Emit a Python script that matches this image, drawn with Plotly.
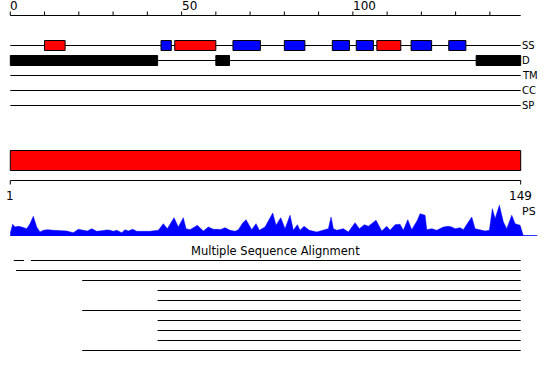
import plotly.graph_objects as go

# ---------------- data ----------------
seq_len = 149
axis_ticks = [0, 10, 20, 30, 40, 50, 60, 70, 80, 90, 100, 110, 120, 130, 140]
axis_labels = ["0", "50", "100"]
axis_label_pos = [0, 50, 100]

# secondary structure elements (start, end, type)
ss_start = [10, 44, 48, 65, 80, 94, 101, 107, 117, 128]
ss_end = [16, 47, 60, 73, 86, 99, 106, 114, 123, 133]
ss_type = ["H", "E", "H", "E", "E", "E", "E", "H", "E", "E"]

# disordered regions
dis_start = [0, 60, 136]
dis_end = [43, 64, 149]

track_names = ["SS", "D", "TM", "CC", "SP"]

# domain bar
dom_start = [0]
dom_end = [149]
dom_axis_labels = ["1", "149"]

# PS profile (residue position, score)
ps_pos = [0.0, 0.7, 1.37, 2.34, 3.33, 4.79, 5.75, 6.72, 7.71, 8.67, 9.64, 11.0, 12.55, 14.51, 16.47,
          18.39, 19.85, 21.31, 22.48, 23.77, 25.23, 26.69, 28.15, 29.11, 30.07, 31.07, 32.53, 33.49,
          34.45, 35.74, 36.91, 38.83, 40.79, 43.21, 44.67, 45.84, 47.80, 49.05, 50.51, 51.30, 52.47,
          54.60, 56.35, 57.81, 59.27, 60.73, 61.23, 62.69, 64.15, 65.61, 66.57, 67.85, 68.82, 70.48,
          71.74, 72.70, 74.36, 76.61, 77.58, 78.95, 80.20, 81.66, 82.63, 83.80, 84.58, 85.75, 87.30,
          89.46, 91.39, 92.85, 93.64, 94.31, 95.30, 97.23, 98.69, 100.64, 101.90, 103.36, 104.53,
          106.77, 108.44, 109.90, 110.86, 112.32, 113.78, 114.74, 116.03, 117.20, 118.83, 119.62,
          121.08, 121.58, 123.04, 124.50, 126.42, 127.88, 128.88, 129.84, 131.30, 132.26, 133.72,
          134.71, 135.68, 138.60, 139.85, 140.73, 141.52, 142.77, 143.94, 144.93, 146.39, 147.36,
          148.82, 149.78]
ps_val = [3, 11.7, 9, 9.7, 9, 7.3, 12.3, 19.7, 9, 4, 5.7, 6.3, 5.7, 5.3, 5,
          3.3, 6.7, 5.7, 5, 7.3, 4.7, 5.3, 6, 5.7, 4.7, 5.7, 3.3, 6.3,
          5, 6.7, 4.7, 4.7, 4.7, 5.7, 12.3, 7.3, 18.3, 9, 18.3, 7.3, 6.3,
          10.7, 5, 9, 6.7, 6.7, 6.3, 8.3, 5.7, 4.7, 6.3, 13, 16.3, 6.3,
          12.3, 5.7, 9, 23, 10.7, 18.3, 7.3, 20.7, 5.7, 11.3, 5.7, 9.7, 5.7,
          4, 6.3, 7.3, 19, 7.3, 5.7, 7.3, 4, 13.3, 7.3, 11.3, 9.7,
          15.7, 5, 9.7, 5.7, 11.3, 11.7, 5.7, 16.3, 6.3, 15.7, 22.3,
          20.7, 6.3, 7.3, 5.7, 9, 9.7, 9, 7.3, 8.3, 6.3, 14,
          19, 7.3, 5, 5.7, 27.3, 17.3, 30.7, 14, 7.3, 20.7, 12.3,
          10.7, 0]
ps_baseline_end = 153.8

# multiple sequence alignment segments
msa_row = [0, 0, 1, 2, 3, 4, 5, 6, 7, 8, 9]
msa_start = [1, 6, 1.7, 21, 43, 43, 21, 43, 43, 43, 21]
msa_end = [4, 149, 149, 149, 149, 149, 149, 149, 149, 149, 149]
msa_title = "Multiple Sequence Alignment"

# ---------------- styling / layout positions (pixel rows) ----------------
W, H = 550, 380
PX0 = 10.3
SCALE = (520.7 - 10.3) / 149.0
x_range = [-PX0 / SCALE, (W - PX0) / SCALE]

FONT = "DejaVu Sans"
ss_colors = {"H": "#ff0000", "E": "#0000ff"}
axis_y = 15.5
track_y = [45.5, 60.5, 75.5, 90.5, 105.5]
dom_y0, dom_y1 = 150.5, 170.5
dom_axis_y = 180.5
msa_y0 = 260.5
msa_dy = 10

fig = go.Figure()
shapes = []
annotations = []

def hline(x0, x1, y, color="black", width=1):
    shapes.append(dict(type="line", xref="x", yref="y", x0=x0, x1=x1, y0=y, y1=y,
                       line=dict(color=color, width=width)))

def vline(x, y0, y1, color="black", width=1):
    shapes.append(dict(type="line", xref="x", yref="y", x0=x, x1=x, y0=y0, y1=y1,
                       line=dict(color=color, width=width)))

# top ruler
hline(0, seq_len, axis_y)
for t in axis_ticks:
    vline(t, axis_y - 4, axis_y)
for lab, p in zip(axis_labels, axis_label_pos):
    annotations.append(dict(x=p, y=6, xref="x", yref="y", text=lab, showarrow=False,
                            xanchor="left", yanchor="middle", xshift=-2,
                            font=dict(family=FONT, size=12, color="black")))

# track lines and names
for name, ty in zip(track_names, track_y):
    hline(0, seq_len, ty)
    annotations.append(dict(x=seq_len, y=ty, xref="x", yref="y", text=name, showarrow=False,
                            xanchor="left", yanchor="middle", xshift=-1,
                            font=dict(family=FONT, size=10, color="black")))

# SS boxes
for s, e, t in zip(ss_start, ss_end, ss_type):
    shapes.append(dict(type="rect", xref="x", yref="y", x0=s, x1=e,
                       y0=track_y[0] - 5, y1=track_y[0] + 5,
                       fillcolor=ss_colors[t], line=dict(color="black", width=1)))
# disorder boxes
for s, e in zip(dis_start, dis_end):
    shapes.append(dict(type="rect", xref="x", yref="y", x0=s, x1=e,
                       y0=track_y[1] - 5, y1=track_y[1] + 5,
                       fillcolor="black", line=dict(color="black", width=1)))

# domain bar
for s, e in zip(dom_start, dom_end):
    shapes.append(dict(type="rect", xref="x", yref="y", x0=s, x1=e, y0=dom_y0, y1=dom_y1,
                       fillcolor="#ff0000", line=dict(color="black", width=1)))
hline(0, seq_len, dom_axis_y)
vline(0, dom_axis_y, dom_axis_y + 4)
vline(seq_len, dom_axis_y, dom_axis_y + 4)
for lab, p in zip(dom_axis_labels, [0, seq_len]):
    annotations.append(dict(x=p, y=196, xref="x", yref="y", text=lab, showarrow=False,
                            xanchor="center", yanchor="middle",
                            font=dict(family=FONT, size=12, color="black")))

# PS profile
fig.add_trace(go.Scatter(x=ps_pos, y=ps_val, mode="lines", fill="tozeroy",
                         fillcolor="#0000ff", line=dict(color="#0000ff", width=0.5),
                         xaxis="x", yaxis="y2", hoverinfo="skip", showlegend=False))
fig.add_trace(go.Scatter(x=[0, ps_baseline_end], y=[0.3, 0.3], mode="lines",
                         line=dict(color="#0000ff", width=1),
                         xaxis="x", yaxis="y2", hoverinfo="skip", showlegend=False))
annotations.append(dict(x=seq_len, y=211, xref="x", yref="y", text="PS", showarrow=False,
                        xanchor="left", yanchor="middle", xshift=-1,
                        font=dict(family=FONT, size=11, color="black")))

# MSA
annotations.append(dict(x=0.5, y=251, xref="paper", yref="y", text=msa_title, showarrow=False,
                        xanchor="center", yanchor="middle",
                        font=dict(family=FONT, size=11.5, color="black")))
for r, s, e in zip(msa_row, msa_start, msa_end):
    hline(s, e, msa_y0 + r * msa_dy)

fig.update_layout(
    width=W, height=H,
    margin=dict(l=0, r=0, t=0, b=0),
    paper_bgcolor="white", plot_bgcolor="rgba(0,0,0,0)",
    showlegend=False,
    xaxis=dict(range=x_range, domain=[0, 1], visible=False, fixedrange=True),
    yaxis=dict(range=[H, 0], domain=[0, 1], visible=False, fixedrange=True),
    yaxis2=dict(range=[0, 36], domain=[1 - 236 / H, 1 - 200 / H], visible=False,
                anchor="x", fixedrange=True),
    shapes=shapes,
    annotations=annotations,
)

fig.write_html("out.html")
